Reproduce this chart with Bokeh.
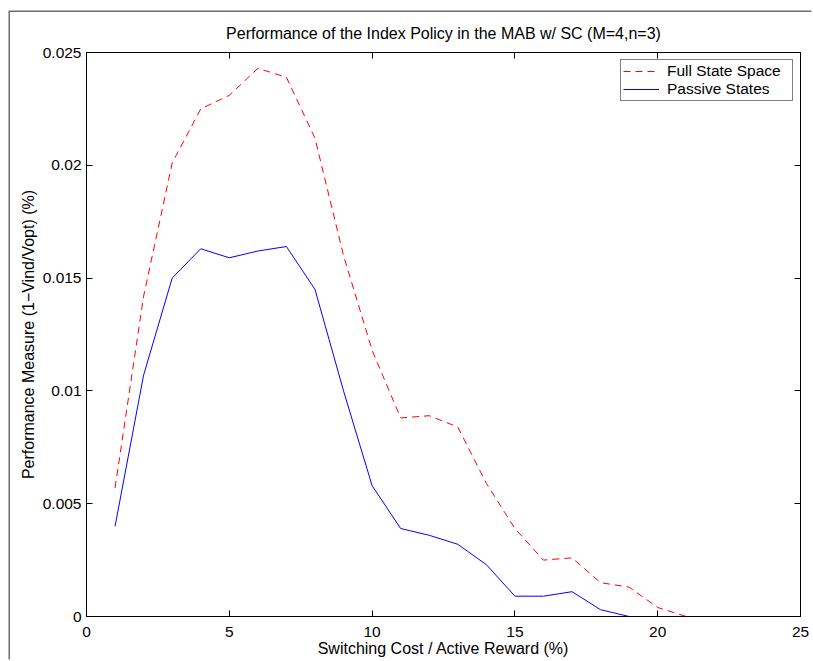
from bokeh.plotting import figure
from bokeh.models import LinearAxis, FixedTicker, Legend, LegendItem, Range1d
from bokeh.embed import file_html
from bokeh.resources import INLINE

# ---- data ----
switching_cost = list(range(1, 26))
full_state_space = [0.0057, 0.0142, 0.0201, 0.0225, 0.0231, 0.0243, 0.0239, 0.0212,
                    0.0160, 0.0118, 0.0088, 0.0089, 0.0084, 0.0059, 0.0039, 0.0025,
                    0.0026, 0.0015, 0.0013, 0.0004, 0.0, 0.0, 0.0, 0.0, 0.0]
passive_states = [0.0040, 0.0107, 0.0150, 0.0163, 0.0159, 0.0162, 0.0164, 0.0145,
                  0.0100, 0.0058, 0.0039, 0.0036, 0.0032, 0.0023, 0.0009, 0.0009,
                  0.0011, 0.0003, 0.0, 0.0, 0.0, 0.0, 0.0, 0.0, 0.0]
x_ticks = [0, 5, 10, 15, 20, 25]
y_ticks = [0, 0.005, 0.01, 0.015, 0.02, 0.025]
y_tick_labels = ["0", "0.005", "0.01", "0.015", "0.02", "0.025"]
series_names = ["Full State Space", "Passive States"]
title_text = "Performance of the Index Policy in the MAB w/ SC (M=4,n=3)"
x_label = "Switching Cost / Active Reward (%)"
y_label = "Performance Measure (1\u2212Vind/Vopt) (%)"

FONT = "Liberation Sans"
FS_TICK = "15.5px"
FS_LABEL = "16px"

p = figure(width=803, height=649, output_backend="svg", toolbar_location=None,
           x_range=Range1d(0, 25), y_range=Range1d(0, 0.025),
           min_border_left=76, min_border_right=13, min_border_top=40, min_border_bottom=45)
p.margin = (12, 0, 0, 10)
p.styles = {"box-shadow": "-1.5px -1.5px 0 0 #6e6e6e"}
p.background_fill_color = "white"
p.border_fill_color = "white"
p.outline_line_color = "black"
p.outline_line_width = 1
p.outline_line_alpha = 1
p.grid.visible = False

p.title.text = title_text
p.title.align = "center"
p.title.vertical_align = "top"
p.title.text_font = FONT
p.title.text_font_size = FS_LABEL
p.title.text_font_style = "normal"
p.title.text_color = "black"
p.title.standoff = 18

r_full = p.line(switching_cost, full_state_space, line_color="#ff0000", line_width=1,
                line_dash="7 5")
r_pass = p.line(switching_cost, passive_states, line_color="#0000ff", line_width=1)

def style_axis(ax):
    ax.major_tick_in = 6
    ax.major_tick_out = 0
    ax.minor_tick_in = 0
    ax.minor_tick_out = 0
    ax.axis_line_color = "black"
    ax.major_tick_line_color = "black"
    ax.major_label_text_font = FONT
    ax.major_label_text_font_size = FS_TICK
    ax.major_label_text_color = "black"
    ax.axis_label_text_font = FONT
    ax.axis_label_text_font_size = FS_LABEL
    ax.axis_label_text_font_style = "normal"
    ax.axis_label_text_color = "black"

xa = p.xaxis[0]
xa.ticker = FixedTicker(ticks=x_ticks)
xa.axis_label = x_label
xa.major_label_standoff = 10
xa.axis_label_standoff = 0
style_axis(xa)

ya = p.yaxis[0]
ya.ticker = FixedTicker(ticks=y_ticks)
ya.major_label_overrides = {t: s for t, s in zip(y_ticks, y_tick_labels)}
ya.axis_label = y_label
ya.major_label_standoff = 5
ya.axis_label_standoff = 3
style_axis(ya)

top = LinearAxis(ticker=FixedTicker(ticks=x_ticks), major_label_standoff=0)
style_axis(top)
top.major_label_overrides = {t: "" for t in x_ticks}
p.add_layout(top, "above")
right = LinearAxis(ticker=FixedTicker(ticks=y_ticks), major_label_standoff=0)
style_axis(right)
right.major_label_overrides = {t: "" for t in y_ticks}
p.add_layout(right, "right")

legend = Legend(items=[LegendItem(label=series_names[0], renderers=[r_full]),
                       LegendItem(label=series_names[1], renderers=[r_pass])],
                location="top_right")
legend.margin = 7
legend.padding = 2
legend.spacing = 0
legend.glyph_width = 36
legend.glyph_height = 18
legend.label_height = 18
legend.label_width = 123
legend.label_standoff = 8
legend.label_text_font = FONT
legend.label_text_font_size = FS_TICK
legend.label_text_color = "black"
legend.border_line_color = "black"
legend.border_line_width = 1
legend.background_fill_color = "white"
legend.background_fill_alpha = 1
p.add_layout(legend)

open("out.html", "w").write(file_html(p, INLINE))
